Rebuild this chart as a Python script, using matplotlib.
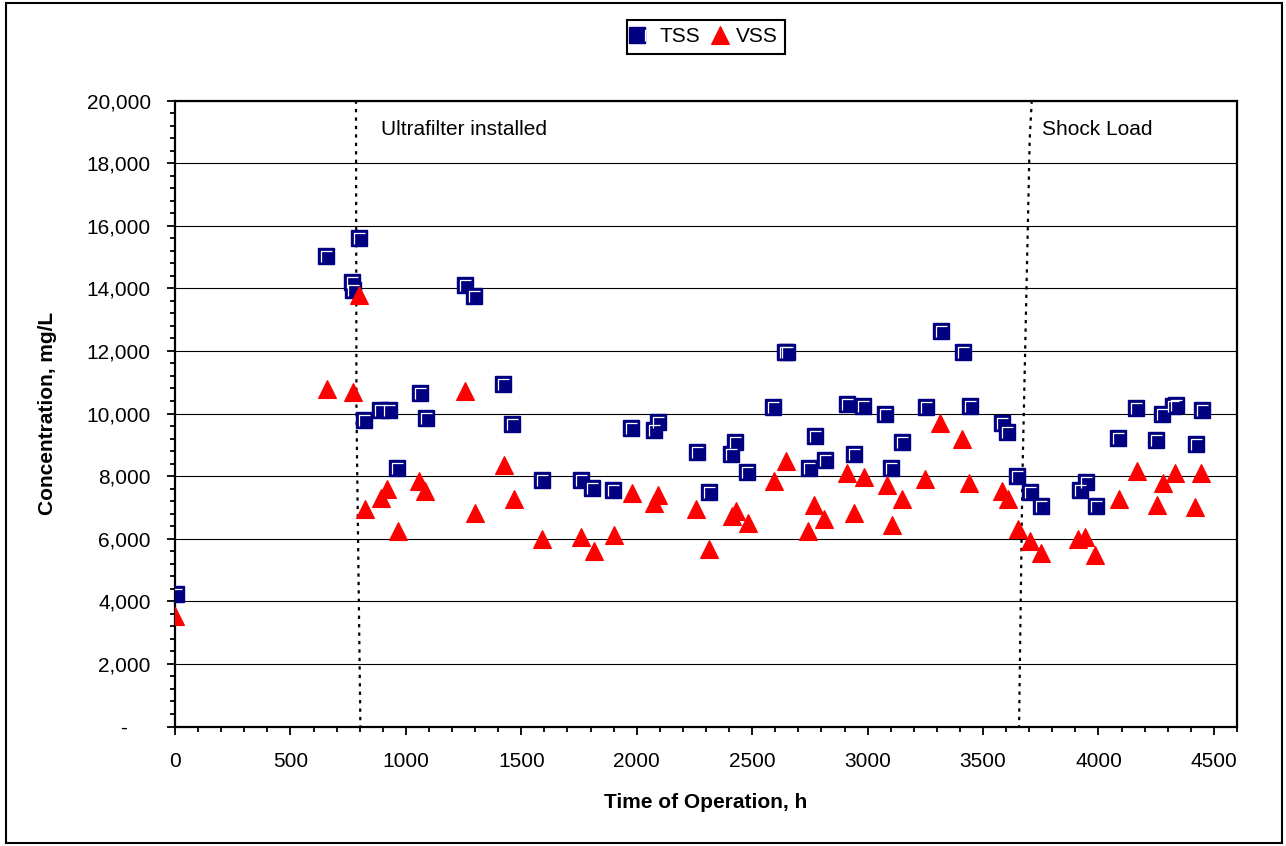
import matplotlib
matplotlib.use("Agg")
import matplotlib.pyplot as plt
from matplotlib.path import Path
from matplotlib.patches import Rectangle
from matplotlib.ticker import MultipleLocator, FuncFormatter
from matplotlib.legend_handler import HandlerTuple

plt.rcParams['font.family'] = ['Liberation Sans', 'DejaVu Sans']

# data
tss_hours = [3, 655, 765, 770, 795, 820, 890, 926, 962, 1063, 1088, 1254, 1295,
             1419, 1461, 1591, 1758, 1808, 1897, 1975, 2073, 2092, 2260, 2312,
             2409, 2426, 2478, 2590, 2643, 2652, 2747, 2773, 2817, 2911, 2939,
             2980, 3077, 3103, 3147, 3251, 3320, 3414, 3442, 3581, 3605, 3649,
             3702, 3750, 3919, 3945, 3989, 4084, 4162, 4249, 4275, 4322, 4336,
             4423, 4449]
tss_conc = [4240, 15040, 14200, 13960, 15620, 9800, 10120, 10120, 8270, 10640,
            9860, 14090, 13760, 10950, 9680, 7880, 7880, 7630, 7560, 9550, 9480,
            9740, 8780, 7500, 8720, 9100, 8140, 10200, 11980, 11980, 8270, 9290,
            8520, 10310, 8720, 10240, 10000, 8270, 9100, 10200, 12620, 11980,
            10240, 9690, 9410, 8010, 7490, 7050, 7560, 7810, 7050, 9230, 10190,
            9160, 9990, 10240, 10260, 9030, 10120]

vss_hours = [0, 658, 771, 799, 825, 893, 919, 964, 1056, 1085, 1258, 1300, 1424,
             1467, 1589, 1758, 1814, 1900, 1978, 2073, 2091, 2257, 2312, 2413,
             2431, 2483, 2596, 2648, 2742, 2769, 2811, 2911, 2941, 2985, 3082,
             3106, 3150, 3247, 3315, 3411, 3439, 3584, 3610, 3653, 3705, 3749,
             3913, 3942, 3986, 4087, 4165, 4253, 4280, 4330, 4417, 4443]
vss_conc = [3530, 10790, 10690, 13790, 6960, 7290, 7600, 6260, 7850, 7530,
            10730, 6830, 8360, 7270, 5990, 6060, 5610, 6120, 7460, 7140, 7400,
            6950, 5670, 6710, 6900, 6510, 7850, 8490, 6260, 7080, 6630, 8100,
            6820, 7970, 7720, 6440, 7270, 7910, 9700, 9200, 7780, 7530, 7260,
            6310, 5930, 5550, 5990, 6060, 5480, 7270, 8170, 7080, 7780, 8100,
            7020, 8100]

# hand-drawn event lines
ultrafilter_x = [784, 786, 803]
ultrafilter_y = [20000, 10100, 0]
shock_x = [3711, 3702, 3670, 3656]
shock_y = [20000, 18740, 7780, 0]

fig = plt.figure(figsize=(12.86, 8.46), dpi=100)
ax = fig.add_axes([175 / 1286, 1 - 726.5 / 846, 1062 / 1286, 626 / 846])

SQ_MS = 11
TRI_MS = 13
# white bevel drawn inside each square (like the old Excel marker)
corner = Path([(-0.32, -0.4), (-0.32, 0.32), (0.4, 0.32)],
              [Path.MOVETO, Path.LINETO, Path.LINETO])

sq, = ax.plot(tss_hours, tss_conc, 's', ms=SQ_MS, color='#000080',
              mec='#000080', mew=1, zorder=3)
bev, = ax.plot(tss_hours, tss_conc, ls='none', marker=corner,
               ms=SQ_MS * 2 * 0.4, mfc='none', mec='white', mew=0.9, zorder=3)
tri, = ax.plot(vss_hours, vss_conc, '^', ms=TRI_MS, color='#FF0000',
               mec='#FF0000', mew=0.8, zorder=4)

ax.plot(ultrafilter_x, ultrafilter_y, color='black', lw=1.6,
        ls=(0, (1.5, 2.3)), zorder=2)
ax.plot(shock_x, shock_y, color='black', lw=1.6,
        ls=(0, (1.5, 2.3)), zorder=2)
ax.text(894, 19060, 'Ultrafilter installed', fontsize=15, va='center')
ax.text(3755, 19060, 'Shock Load', fontsize=15, va='center')

ax.set_xlim(0, 4600)
ax.set_ylim(0, 20000)
ax.xaxis.set_major_locator(MultipleLocator(500))
ax.xaxis.set_minor_locator(MultipleLocator(100))
ax.yaxis.set_major_locator(MultipleLocator(2000))
ax.yaxis.set_minor_locator(MultipleLocator(400))
ax.yaxis.set_major_formatter(FuncFormatter(lambda v, p: '-    ' if v == 0 else f'{int(v):,}'))
ax.xaxis.set_major_formatter(FuncFormatter(lambda v, p: f'{int(v)}'))

ax.grid(axis='y', which='major', color='black', lw=0.8)
ax.set_axisbelow(True)
for s in ax.spines.values():
    s.set_linewidth(1.6)
ax.tick_params(which='major', direction='out', length=5.5, width=1.3, labelsize=15)
ax.tick_params(which='minor', direction='out', length=3.5, width=1.3)
ax.tick_params(axis='y', which='major', pad=12)
ax.tick_params(axis='x', which='major', pad=13)

ax.set_xlabel('Time of Operation, h', fontsize=15, fontweight='bold', va='center')
ax.set_ylabel('Concentration, mg/L', fontsize=15, fontweight='bold', va='center')
ax.xaxis.set_label_coords(0.5, (726.5 - 802) / 626)
ax.yaxis.set_label_coords((48 - 175) / 1062, 0.5)

leg = fig.legend([(sq, bev), tri], ['TSS', 'VSS'], loc='center',
                 bbox_to_anchor=(706 / 1286, 1 - 37 / 846), ncol=2,
                 fancybox=False, edgecolor='black', framealpha=1,
                 handlelength=0.9, handletextpad=0.3, columnspacing=0.5,
                 borderpad=0.35, fontsize=15,
                 handler_map={tuple: HandlerTuple(ndivide=None)})
leg.get_frame().set_linewidth(1.5)

fig.patches.append(Rectangle((6 / 1286, 3 / 846), 1276 / 1286, 840 / 846,
                             transform=fig.transFigure, fill=False,
                             lw=1.5, ec='black'))

fig.savefig('out.png', dpi=100)
